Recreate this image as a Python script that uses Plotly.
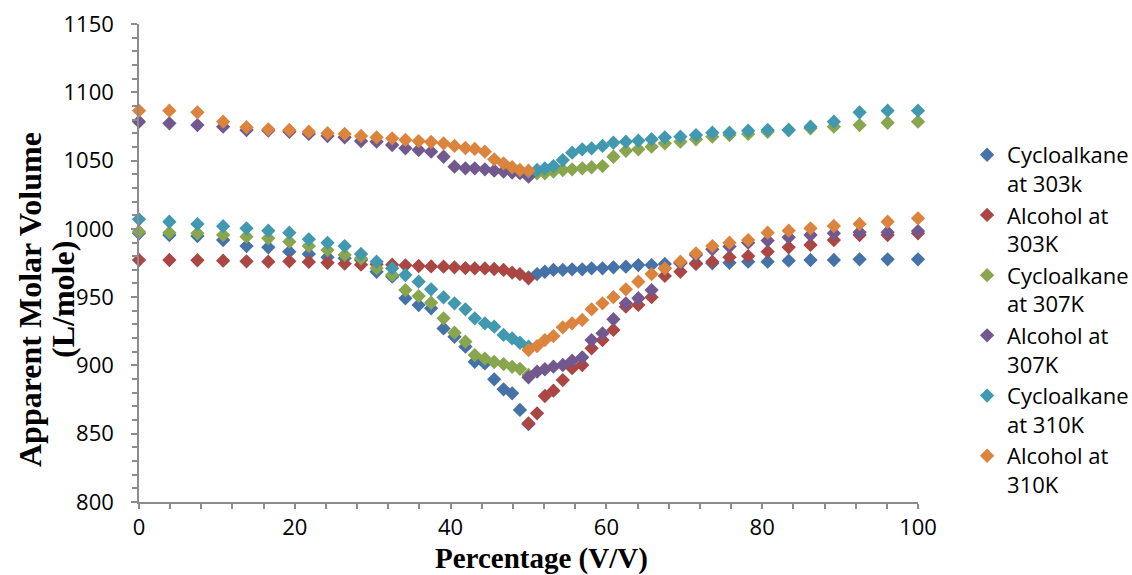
import plotly.graph_objects as go

# x positions (Percentage V/V): first half 0->50, second half 50->100
X_LEFT = [0, 3.9, 7.5, 10.8, 13.8, 16.6, 19.3, 21.8, 24.2, 26.4, 28.5, 30.5, 32.5,
          34.2, 35.9, 37.5, 39.1, 40.5, 41.9, 43.1, 44.4, 45.6, 46.8, 47.9, 48.9, 50.0]
X_RIGHT = [50.0, 51.1, 52.1, 53.2, 54.4, 55.6, 56.9, 58.1, 59.5, 60.9, 62.5, 64.1, 65.8,
           67.5, 69.5, 71.5, 73.6, 75.8, 78.2, 80.7, 83.4, 86.2, 89.2, 92.5, 96.1, 100.0]

cyclo303_left = [996.7, 995.5, 994.7, 991.8, 987.4, 986.5, 983.3, 981.6, 979.2, 978.5, 977.2, 968.6, 965.0,
                 949.1, 944.2, 941.8, 927.1, 921.0, 913.7, 902.7, 901.5, 889.8, 882.5, 879.6, 867.4, 857.0]
cyclo303_right = [964.5, 966.9, 968.6, 969.9, 969.9, 970.4, 970.4, 971.1, 971.1, 971.8, 972.3, 973.5, 973.5,
                  974.3, 975.2, 974.8, 974.8, 975.2, 976.0, 976.0, 976.7, 977.2, 977.2, 977.7, 977.7, 977.7]

alcohol303_left = [977.2, 977.2, 977.0, 976.7, 976.2, 976.0, 976.2, 975.8, 975.2, 974.5, 973.8, 974.0, 973.8,
                   973.3, 972.8, 972.5, 972.3, 971.8, 971.3, 971.1, 971.0, 970.6, 969.9, 968.0, 966.8, 963.8]
alcohol303_right = [857.6, 864.9, 877.6, 881.5, 889.3, 898.0, 900.3, 912.5, 918.6, 926.0, 943.0, 944.3, 950.0,
                    965.5, 968.6, 974.3, 976.0, 979.2, 980.1, 983.3, 986.5, 988.2, 991.8, 995.5, 995.5, 996.7]

cyclo307_left = [997.9, 997.2, 996.7, 995.5, 994.3, 993.1, 990.6, 987.4, 984.5, 980.9, 978.4, 971.1, 966.2,
                 955.2, 950.8, 945.9, 934.5, 924.0, 917.4, 907.6, 905.0, 902.5, 901.0, 899.0, 897.5, 893.0]
cyclo307_right = [1039.0, 1040.7, 1040.7, 1042.0, 1043.1, 1043.6, 1044.3, 1045.1, 1046.0, 1052.8, 1057.2, 1058.2, 1060.2,
                  1062.6, 1063.8, 1065.6, 1067.5, 1068.7, 1069.5, 1071.1, 1072.4, 1073.6, 1074.8, 1076.0, 1077.7, 1078.5]

alcohol307_left = [1078.5, 1077.3, 1076.0, 1074.8, 1072.4, 1072.0, 1071.1, 1069.5, 1068.0, 1067.0, 1064.3, 1063.8, 1061.4,
                   1059.0, 1057.7, 1056.5, 1052.8, 1045.5, 1044.3, 1044.3, 1043.6, 1042.6, 1042.0, 1041.2, 1040.8, 1038.2]
alcohol307_right = [891.3, 895.4, 897.2, 899.1, 900.3, 903.5, 905.9, 918.6, 923.5, 933.8, 945.5, 949.2, 955.2,
                    971.1, 974.8, 980.9, 985.0, 987.0, 989.9, 991.4, 993.8, 995.5, 996.7, 997.5, 997.5, 998.4]

cyclo310_left = [1007.0, 1005.2, 1003.5, 1002.0, 1000.4, 998.6, 997.2, 992.3, 989.8, 987.4, 981.6, 976.0, 971.1,
                 966.2, 961.3, 955.7, 949.9, 945.5, 941.1, 934.5, 930.8, 928.4, 922.3, 919.8, 916.6, 913.7]
cyclo310_right = [1042.0, 1043.1, 1044.3, 1046.0, 1050.4, 1055.8, 1058.2, 1059.0, 1060.7, 1063.1, 1063.8, 1064.6, 1065.6,
                  1067.0, 1067.5, 1068.7, 1070.4, 1070.4, 1071.9, 1072.4, 1072.4, 1074.8, 1078.5, 1085.3, 1086.5, 1086.5]

alcohol310_left = [1086.5, 1086.5, 1085.3, 1078.5, 1074.4, 1072.9, 1072.4, 1071.1, 1070.0, 1069.5, 1068.0, 1067.0, 1066.3,
                   1065.1, 1064.3, 1063.6, 1062.6, 1060.7, 1059.2, 1058.5, 1056.5, 1050.9, 1048.0, 1045.1, 1043.1, 1042.6]
alcohol310_right = [911.3, 914.2, 918.6, 921.5, 927.9, 930.8, 933.3, 941.1, 945.5, 950.0, 955.7, 961.3, 966.9,
                    971.1, 976.0, 982.1, 987.4, 989.9, 991.8, 997.2, 998.7, 1000.4, 1002.1, 1003.6, 1005.2, 1007.7]

SERIES_NAMES = ["Cycloalkane<br>at 303k", "Alcohol at<br>303K", "Cycloalkane<br>at 307K",
                "Alcohol at<br>307K", "Cycloalkane<br>at 310K", "Alcohol at<br>310K"]
SERIES_Y = [cyclo303_left + cyclo303_right, alcohol303_left + alcohol303_right,
            cyclo307_left + cyclo307_right, alcohol307_left + alcohol307_right,
            cyclo310_left + cyclo310_right, alcohol310_left + alcohol310_right]
COLORS = ["#4572A7", "#AA4643", "#89A54E", "#71588F", "#4198AF", "#DB843D"]

X = X_LEFT + X_RIGHT

fig = go.Figure()
for name, ys, col in zip(SERIES_NAMES, SERIES_Y, COLORS):
    fig.add_trace(go.Scatter(
        x=X, y=ys, name=name, mode="markers", cliponaxis=False,
        marker=dict(symbol="diamond", size=11, color=col, line=dict(width=0)),
    ))

axis_col = "#8c8c8c"
tick_font = dict(family="Open Sans", size=22, color="#000000")

fig.update_layout(
    width=1132, height=575, autosize=False,
    margin=dict(l=139, r=214, t=24, b=73, pad=0, autoexpand=False),
    paper_bgcolor="white", plot_bgcolor="white",
    showlegend=True,
    legend=dict(
        x=1.063, xanchor="left", y=0.77, yanchor="top",
        font=dict(family="Open Sans", size=22, color="#000000"),
        valign="top", itemwidth=30, tracegroupgap=0,
        bgcolor="rgba(0,0,0,0)",
    ),
    xaxis=dict(
        range=[0, 100], tick0=0, dtick=20, showgrid=False, zeroline=False,
        showline=True, linecolor=axis_col, linewidth=1.5,
        ticks="outside", ticklen=5, tickcolor=axis_col, tickwidth=1.5,
        minor=dict(dtick=4, ticks="outside", ticklen=5, tickcolor=axis_col, tickwidth=1.5, showgrid=False),
        tickfont=tick_font, ticklabelstandoff=0,
    ),
    yaxis=dict(
        range=[800, 1150], tick0=800, dtick=50, showgrid=False, zeroline=False,
        showline=True, linecolor=axis_col, linewidth=1.5,
        ticks="outside", ticklen=6, tickcolor=axis_col, tickwidth=1.5,
        minor=dict(dtick=10, ticks="outside", ticklen=5, tickcolor=axis_col, tickwidth=1.5, showgrid=False),
        tickfont=tick_font, ticklabelstandoff=13,
    ),
)

title_font = dict(family="Liberation Serif", size=29, color="#000000", weight="bold")
fig.add_annotation(text="Apparent Molar Volume", xref="paper", yref="paper",
                   x=(30 - 139) / 779, y=(502 - 300) / 478, textangle=-90,
                   showarrow=False, font=dict(family="Liberation Serif", size=32, color="#000000", weight="bold"),
                   xanchor="center", yanchor="middle")
fig.add_annotation(text="(L/mole)", xref="paper", yref="paper",
                   x=(63 - 139) / 779, y=(502 - 300) / 478, textangle=-90,
                   showarrow=False, font=dict(family="Liberation Serif", size=32, color="#000000", weight="bold"),
                   xanchor="center", yanchor="middle")
fig.add_annotation(text="Percentage (V/V)", xref="paper", yref="paper",
                   x=(541 - 139) / 779, y=(502 - 541) / 478, borderpad=0,
                   showarrow=False, font=title_font, xanchor="center", yanchor="top")

fig.write_html("out.html")
